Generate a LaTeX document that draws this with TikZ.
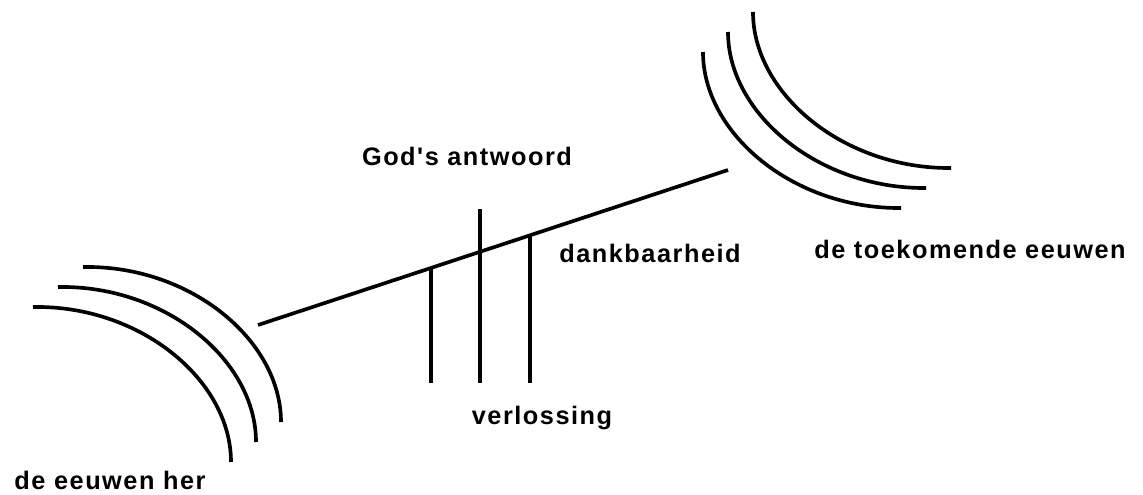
\documentclass[tikz,border=0pt]{standalone}
\usepackage{fontspec}
\newfontfamily\labelfont{Liberation Sans}[LetterSpace=6]
\begin{document}
\begin{tikzpicture}[x=0.025cm, y=-0.025cm, line width=2.6pt,
    labeltext/.style={font=\labelfont\bfseries\fontsize{18}{21}\selectfont, inner sep=0pt, anchor=base}]
    \useasboundingbox (0,0) rectangle (1143,494);

    % Bogen: de eeuwen her
    \foreach \i in {0,1,2}
        \draw[shift={(25*\i,-20*\i)}] (33,307) .. controls (140,305) and (231,380) .. (231,462);

    % Bogen: de toekomende eeuwen
    \foreach \i in {-1,0,1}
        \draw[shift={(25*\i,-20*\i)}] (728,32) .. controls (728,114) and (819,189) .. (926,188);

    % Tijdlijn
    \coordinate (past) at (258,325);
    \coordinate (future) at (728,170);
    \draw (past) -- (future);

    % Verticale lijnen
    \coordinate (verl top) at (431,268);
    \coordinate (verl bot) at (431,383);
    \coordinate (god top) at (480,209);
    \coordinate (god bot) at (480,383);
    \coordinate (dank top) at (530,235);
    \coordinate (dank bot) at (530,383);
    \draw (verl top) -- (verl bot);
    \draw (god top) -- (god bot);
    \draw (dank top) -- (dank bot);

    % Teksten
    \node[labeltext] (god) at (467,165) {God's antwoord};
    \node[labeltext] (dank) at (650,262) {dankbaarheid};
    \node[labeltext] (toekomst) at (970,258) {de toekomende eeuwen};
    \node[labeltext] (verlossing) at (542,424) {verlossing};
    \node[labeltext] (verleden) at (110,489) {de eeuwen her};
\end{tikzpicture}
\end{document}
